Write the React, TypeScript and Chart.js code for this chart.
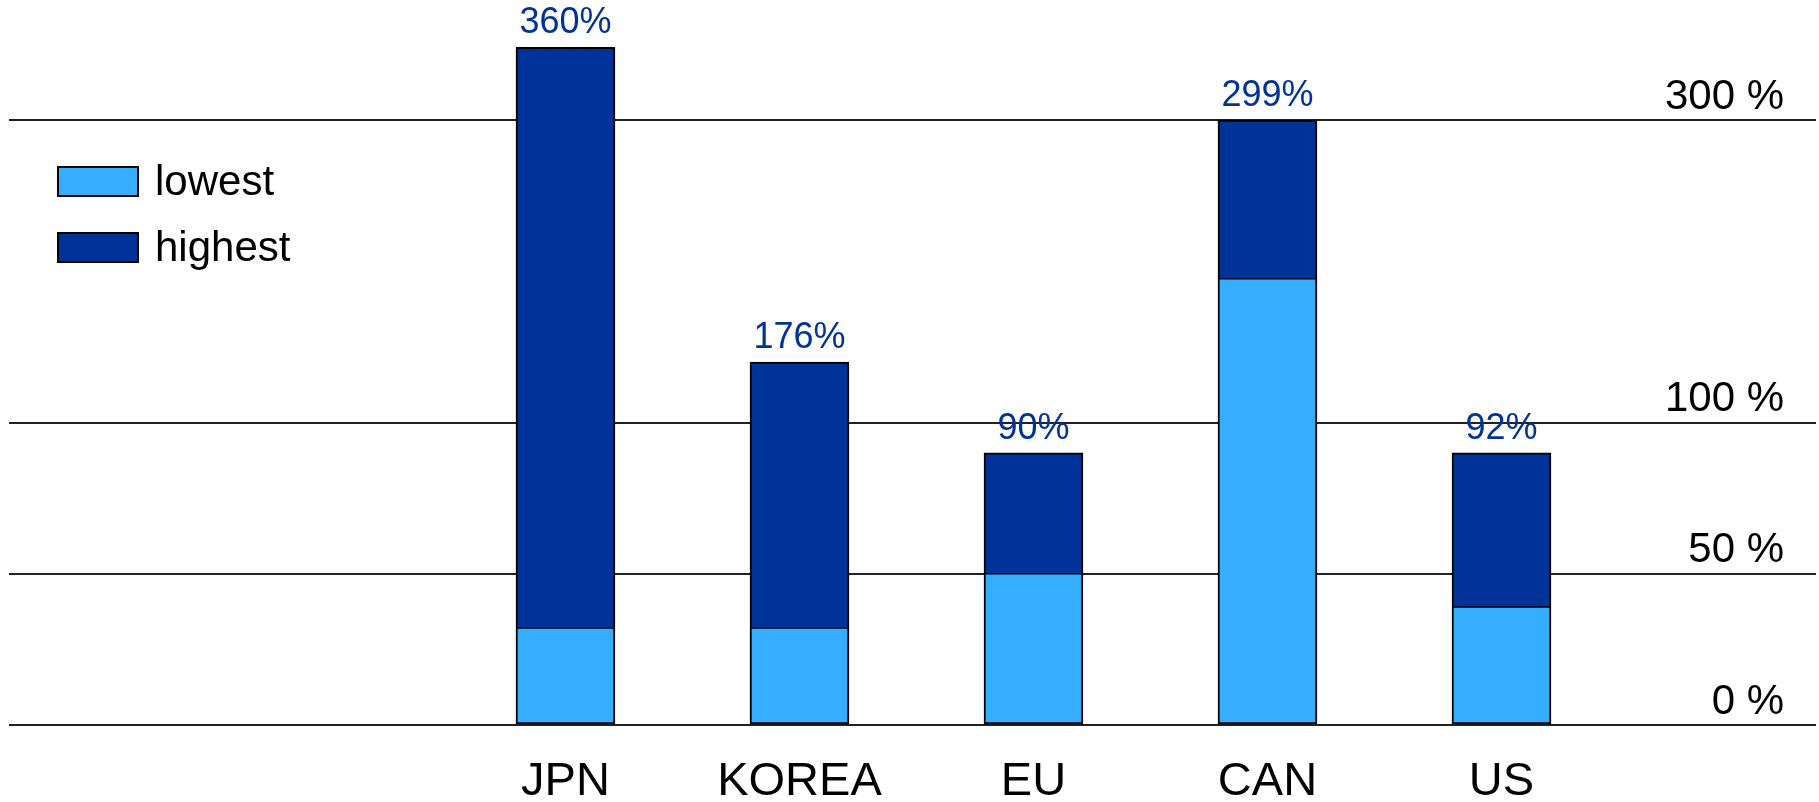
import React, { useEffect, useRef } from 'react';
import { Chart, registerables } from 'chart.js';

Chart.register(...registerables);

// ---- data ----
const categories = ['JPN', 'KOREA', 'EU', 'CAN', 'US'];
const seriesNames = ['lowest', 'highest'];
const lowest = [32, 32, 50, 195, 39];
const highest = [348, 140, 90, 300, 90];
const highestLabels = ['360%', '176%', '90%', '299%', '92%'];
const yTickValues = [0, 50, 100, 300];
const yTickLabels = ['0 %', '50 %', '100 %', '300 %'];

const LIGHT = '#35aeff';
const DARK = '#003399';
const FONT = '"Liberation Sans", Arial, Helvetica, sans-serif';

// piecewise axis: 0-100 full scale, above 100 at half scale
const toPos = (v: number) => (v <= 100 ? v : 100 + (v - 100) / 2);

const overlay = {
  id: 'overlay',
  afterDatasetsDraw(chart: any) {
    const ctx = chart.ctx;
    ctx.save();
    const meta = chart.getDatasetMeta(1);
    ctx.font = `36px ${FONT}`;
    ctx.fillStyle = DARK;
    ctx.textAlign = 'center';
    ctx.textBaseline = 'alphabetic';
    meta.data.forEach((el: any, i: number) => {
      ctx.fillText(highestLabels[i], el.x, el.y - 14);
    });
    const colors = [LIGHT, DARK];
    ctx.font = `42px ${FONT}`;
    ctx.textAlign = 'left';
    seriesNames.forEach((name, i) => {
      const top = 166 + i * 66;
      ctx.fillStyle = colors[i];
      ctx.fillRect(57, top, 82, 31);
      ctx.strokeStyle = '#000';
      ctx.lineWidth = 2;
      ctx.strokeRect(58, top + 1, 80, 29);
      ctx.fillStyle = '#000';
      ctx.fillText(name, 155, top + 29);
    });
    ctx.restore();
  },
};

export default function App() {
  const ref = useRef<HTMLCanvasElement | null>(null);
  useEffect(() => {
    if (!ref.current) return;
    const border = '#000';
    const chart = new Chart(ref.current, {
      type: 'bar',
      data: {
        datasets: [
          {
            label: seriesNames[0],
            data: lowest.map((v, i) => ({ x: i, y: [0, toPos(v)] })) as any,
            backgroundColor: LIGHT,
            borderColor: border,
            borderWidth: { top: 1, left: 2, right: 2, bottom: 2 } as any,
            borderSkipped: false,
            barThickness: 99,
            grouped: false,
          },
          {
            label: seriesNames[1],
            data: highest.map((v, i) => ({ x: i, y: [toPos(lowest[i]), toPos(v)] })) as any,
            backgroundColor: DARK,
            borderColor: border,
            borderWidth: { top: 2, left: 2, right: 2, bottom: 1 } as any,
            borderSkipped: false,
            barThickness: 99,
            grouped: false,
          },
        ],
      },
      options: {
        animation: false,
        responsive: true,
        maintainAspectRatio: false,
        layout: { padding: { left: 9, right: 3, top: 0, bottom: 0 } },
        plugins: { legend: { display: false }, tooltip: { enabled: false } },
        scales: {
          x: {
            type: 'linear',
            offset: false,
            min: -2.378,
            max: 5.344,
            grid: { display: false },
            border: { display: false },
            afterBuildTicks: (s: any) => {
              s.ticks = categories.map((_, i) => ({ value: i }));
            },
            afterFit: (s: any) => {
              s.height = 77;
            },
            ticks: {
              autoSkip: false,
              maxRotation: 0,
              padding: 21,
              color: '#000',
              font: { size: 47, family: FONT },
              callback: (v: any) => categories[v] ?? '',
            },
          },
          y: {
            type: 'linear',
            position: 'right',
            min: 0,
            max: 239.67,
            grid: { color: '#222', lineWidth: 2, drawTicks: false },
            border: { display: false },
            afterBuildTicks: (s: any) => {
              s.ticks = yTickValues.map((v) => ({ value: toPos(v) }));
            },
            afterFit: (s: any) => {
              s.width = 0;
            },
            ticks: {
              mirror: true,
              padding: -32,
              labelOffset: -23,
              color: '#000',
              font: { size: 42, family: FONT },
              callback: (_v: any, i: number) => yTickLabels[i],
            },
          },
        },
      } as any,
      plugins: [overlay],
    });
    return () => chart.destroy();
  }, []);
  return (
    <div style={{ position: 'fixed', left: 0, top: 0, width: 1819, height: 802, background: '#fff' }}>
      <canvas ref={ref} />
    </div>
  );
}
